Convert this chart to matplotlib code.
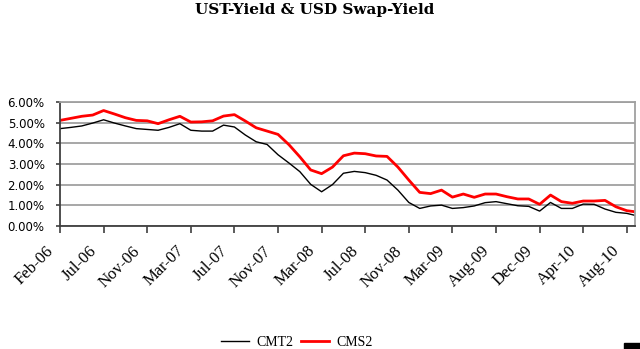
import matplotlib.pyplot as plt
from matplotlib.patches import Rectangle
from matplotlib.ticker import FuncFormatter
from matplotlib.transforms import ScaledTranslation

# monthly points, Feb-06 .. Oct-10 (values in %)
cmt2 = [4.72, 4.78, 4.85, 4.99, 5.15, 4.99, 4.85, 4.72, 4.68, 4.64,
        4.78, 4.96, 4.64, 4.60, 4.60, 4.89, 4.80, 4.41, 4.08, 3.95,
        3.45, 3.05, 2.63, 2.01, 1.65, 2.00, 2.55, 2.64, 2.58, 2.45,
        2.22, 1.73, 1.13, 0.84, 0.96, 1.00, 0.84, 0.88, 0.96, 1.12,
        1.17, 1.07, 0.97, 0.94, 0.71, 1.13, 0.84, 0.84, 1.05, 1.04,
        0.81, 0.65, 0.60, 0.47]
cms2 = [5.12, 5.22, 5.32, 5.38, 5.60, 5.43, 5.25, 5.12, 5.10, 4.96,
        5.15, 5.32, 5.04, 5.05, 5.10, 5.33, 5.40, 5.09, 4.76, 4.60,
        4.44, 3.94, 3.35, 2.71, 2.53, 2.85, 3.40, 3.53, 3.50, 3.39,
        3.37, 2.85, 2.22, 1.62, 1.56, 1.73, 1.39, 1.54, 1.38, 1.54,
        1.54, 1.41, 1.30, 1.30, 1.04, 1.49, 1.17, 1.09, 1.20, 1.20,
        1.23, 0.92, 0.73, 0.66]
tick_labels = ['Feb-06', 'Jul-06', 'Nov-06', 'Mar-07', 'Jul-07', 'Nov-07',
               'Mar-08', 'Jul-08', 'Nov-08', 'Mar-09', 'Aug-09', 'Dec-09',
               'Apr-10', 'Aug-10']
tick_step = 4

x = list(range(len(cmt2)))

fig = plt.figure(figsize=(6.4, 3.49), dpi=100)
ax = fig.add_axes([60/640, 1 - 225.7/349, 575/640, (225.7 - 102.3)/349])

ax.plot(x, [v / 100 for v in cmt2], color='black', lw=1.0, label='CMT2')
ax.plot(x, [v / 100 for v in cms2], color='#ff0000', lw=2.0, label='CMS2')

ax.set_ylim(0, 0.06)
ax.set_xlim(0, 52.75)
ax.set_yticks([i / 100 for i in range(7)])
ax.yaxis.set_major_formatter(FuncFormatter(lambda v, p: '%.2f%%' % (v * 100)))
ax.yaxis.grid(True, color='#a0a0a0', lw=1.3)
ax.set_axisbelow(True)

ax.set_xticks(x[::tick_step])
ax.tick_params(axis='x', length=5, width=1.2, color='#404040', pad=6)
ax.tick_params(axis='y', length=3, width=1.2, color='#404040', pad=8)

ax.set_xticklabels(tick_labels, rotation=45, ha='right', va='top',
                   rotation_mode='anchor', family='Liberation Serif', fontsize=12)
# labels sit a little left of their ticks
shift = ScaledTranslation(-15/100, -2/100, fig.dpi_scale_trans)
for lab in ax.get_xticklabels():
    lab.set_transform(lab.get_transform() + shift)
for lab in ax.get_yticklabels():
    lab.set_fontsize(8.5)
    lab.set_family('DejaVu Sans')

for side in ['left', 'bottom']:
    ax.spines[side].set_color('#404040')
    ax.spines[side].set_linewidth(1.3)
for side in ['right', 'top']:
    ax.spines[side].set_color('#a0a0a0')
    ax.spines[side].set_linewidth(1.3)

fig.text(315/640, 1 - 10/349, 'UST-Yield & USD Swap-Yield', ha='center', va='center',
         family='DejaVu Serif', fontweight='bold', fontsize=11)

fig.legend(loc='center', bbox_to_anchor=(297/640, 1 - 342/349), ncol=2, frameon=False,
           prop={'family': 'Liberation Serif', 'size': 10}, handlelength=2.0,
           handletextpad=0.5, columnspacing=0.6)

fig.patches.append(Rectangle((624/640, 0), 16/640, 6/349, transform=fig.transFigure,
                             color='black', figure=fig))

fig.savefig('out.png', dpi=100)
